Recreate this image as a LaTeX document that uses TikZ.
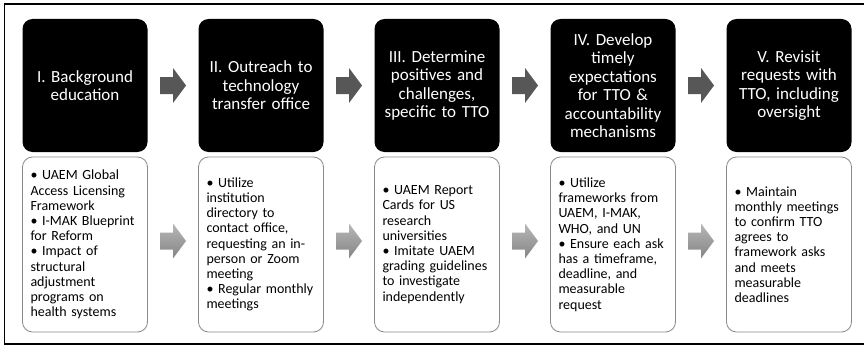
\documentclass[tikz,border=0pt]{standalone}
\usepackage{fontspec}
\setmainfont{Carlito}
\usetikzlibrary{calc}
\definecolor{arrowdark}{HTML}{575757}
\definecolor{edgegray}{HTML}{8A8A8A}
\tikzset{
  stage/.style={fill=black, rounded corners=10pt, minimum width=125pt, minimum height=133pt,
    text width=121pt, inner sep=2pt, align=center, text=white, font=\fontsize{17}{18.5}\selectfont},
  detail/.style={draw=edgegray, line width=0.8pt, fill=white, rounded corners=10pt, minimum height=175pt,
    text width=109pt, inner xsep=8pt, inner ysep=0pt, align=left, font=\fontsize{14}{15.2}\selectfont},
  pics/blockarrow/.style={code={
    \path[pic actions] (-13,-8.5) -- (0,-8.5) -- (0,-17.5) -- (13,0) -- (0,17.5) -- (0,8.5) -- (-13,8.5) -- cycle;}},
  darkarrow/.style={fill=arrowdark},
  lightarrow/.style={top color=black!28, bottom color=black!48}
}
\begin{document}
\begin{tikzpicture}[x=1pt, y=1pt]
  \useasboundingbox (0,0) rectangle (864,349);
  \fill[white] (0,0) rectangle (864,349);
  % outer frame (right side falls outside the picture)
  \draw[line width=1.8pt] (864,345) -| (4.5,5) -- (864,5);

  % top row: stages
  \node[stage] (s1) at (85,263.5)  {I. Background\\education};
  \node[stage] (s2) at (261,263.5) {II. Outreach to\\technology\\transfer office};
  \node[stage] (s3) at (437,263.5) {III. Determine\\positives and\\challenges,\\specific to TTO};
  \node[stage] (s4) at (613,263.5) {IV. Develop\\timely\\expectations\\for TTO \&\\accountability\\mechanisms};
  \node[stage] (s5) at (789,263.5) {V. Revisit\\requests with\\TTO, including\\oversight};

  % bottom row: details
  \node[detail] (d1) at (85,104.5)  {• UAEM Global\\Access Licensing\\Framework\\• I-MAK Blueprint\\for Reform\\• Impact of\\structural\\adjustment\\programs on\\health systems};
  \node[detail] (d2) at (261,104.5) {• Utilize\\institution\\directory to\\contact office,\\requesting an in-\\person or Zoom\\meeting\\• Regular monthly\\meetings};
  \node[detail] (d3) at (437,104.5) {• UAEM Report\\Cards for US\\research\\universities\\• Imitate UAEM\\grading guidelines\\to investigate\\independently};
  \node[detail] (d4) at (613,104.5) {• Utilize\\frameworks from\\UAEM, I-MAK,\\WHO, and UN\\• Ensure each ask\\has a timeframe,\\deadline, and\\measurable\\request};
  \node[detail] (d5) at (789,104.5) {• Maintain\\monthly meetings\\to confirm TTO\\agrees to\\framework asks\\and meets\\measurable\\deadlines};

  % arrows between the boxes
  \pic[darkarrow] at ($(s1.east)!0.5!(s2.west)$) {blockarrow};
  \pic[darkarrow] at ($(s2.east)!0.5!(s3.west)$) {blockarrow};
  \pic[darkarrow] at ($(s3.east)!0.5!(s4.west)$) {blockarrow};
  \pic[darkarrow] at ($(s4.east)!0.5!(s5.west)$) {blockarrow};
  \pic[lightarrow] at ($(d1.east)!0.5!(d2.west)+(0,3.5)$) {blockarrow};
  \pic[lightarrow] at ($(d2.east)!0.5!(d3.west)+(0,3.5)$) {blockarrow};
  \pic[lightarrow] at ($(d3.east)!0.5!(d4.west)+(0,3.5)$) {blockarrow};
  \pic[lightarrow] at ($(d4.east)!0.5!(d5.west)+(0,3.5)$) {blockarrow};
\end{tikzpicture}
\end{document}
